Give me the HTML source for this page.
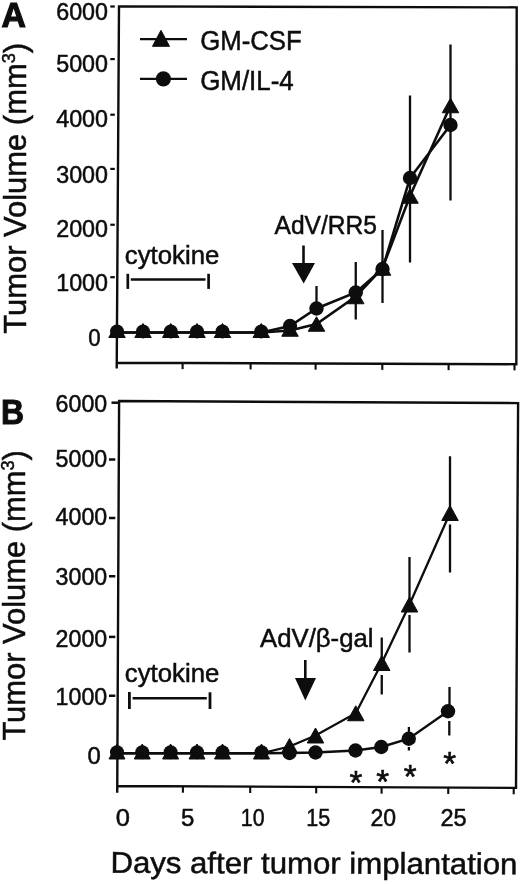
<!DOCTYPE html>
<html><head><meta charset="utf-8"><title>Figure</title>
<style>
html,body{margin:0;padding:0;background:#fff;}
body{width:520px;height:884px;overflow:hidden;font-family:"Liberation Sans",sans-serif;}
svg{display:block;filter:grayscale(1) blur(0.4px);}
svg text{font-family:"Liberation Sans",sans-serif;fill:#0d0d0d;stroke:#0d0d0d;stroke-width:0.5px;}
svg line,svg polyline,svg path{stroke:#0d0d0d;}
svg polygon,svg circle{fill:#0d0d0d;stroke:none;}
svg polygon.t{stroke:#0d0d0d;stroke-width:1px;stroke-linejoin:round;}
</style></head><body>
<svg width="520" height="884" viewBox="0 0 520 884">
<rect x="0" y="0" width="520" height="884" fill="#fff" stroke="none"/>
<g id="A">
<path fill="none" stroke-width="2.4" stroke-linejoin="miter" d="M116.7,368.6 L116.75,362.7 L119.0,6.35 L516.7,7.35 L516.35,365.2 M115.75,362.7 L517.35,364.2"/>
<line x1="182.60" y1="362.95" x2="182.60" y2="369.15" stroke-width="2.1"/>
<line x1="250.60" y1="363.20" x2="250.60" y2="369.40" stroke-width="2.1"/>
<line x1="315.60" y1="363.45" x2="315.60" y2="369.65" stroke-width="2.1"/>
<line x1="382.30" y1="363.70" x2="382.30" y2="369.90" stroke-width="2.1"/>
<line x1="448.60" y1="363.95" x2="448.60" y2="370.15" stroke-width="2.1"/>
<line x1="514.50" y1="364.19" x2="514.50" y2="370.39" stroke-width="2.1"/>
<line x1="110.30" y1="6.50" x2="114.80" y2="6.50" stroke-width="2.2"/>
<text x="56.2" y="19.55" font-size="23" text-anchor="start" font-weight="normal" textLength="51.8" lengthAdjust="spacingAndGlyphs">6000</text>
<line x1="110.30" y1="59.10" x2="114.80" y2="59.10" stroke-width="2.2"/>
<text x="56.2" y="72.3" font-size="23" text-anchor="start" font-weight="normal" textLength="51.8" lengthAdjust="spacingAndGlyphs">5000</text>
<line x1="110.30" y1="114.70" x2="114.80" y2="114.70" stroke-width="2.2"/>
<text x="56.2" y="127.05" font-size="23" text-anchor="start" font-weight="normal" textLength="51.8" lengthAdjust="spacingAndGlyphs">4000</text>
<line x1="110.30" y1="168.90" x2="114.80" y2="168.90" stroke-width="2.2"/>
<text x="56.2" y="182.55" font-size="23" text-anchor="start" font-weight="normal" textLength="51.8" lengthAdjust="spacingAndGlyphs">3000</text>
<line x1="110.30" y1="224.75" x2="114.80" y2="224.75" stroke-width="2.2"/>
<text x="56.2" y="237.3" font-size="23" text-anchor="start" font-weight="normal" textLength="51.8" lengthAdjust="spacingAndGlyphs">2000</text>
<line x1="110.30" y1="277.20" x2="114.80" y2="277.20" stroke-width="2.2"/>
<text x="56.2" y="290.55" font-size="23" text-anchor="start" font-weight="normal" textLength="51.8" lengthAdjust="spacingAndGlyphs">1000</text>
<text x="88.3" y="346.2" font-size="23" text-anchor="start" font-weight="normal" textLength="12.4" lengthAdjust="spacingAndGlyphs">0</text>
<text transform="translate(25.5,333.8) rotate(-90)" font-size="30.5" textLength="291" lengthAdjust="spacingAndGlyphs">Tumor Volume (mm<tspan font-size="18" dy="-11">3</tspan><tspan dy="11">)</tspan></text>
<text x="1.5" y="26.6" font-size="35.4" text-anchor="start" font-weight="bold" textLength="24.4" lengthAdjust="spacingAndGlyphs" style="stroke-width:1.2px">A</text>
<line x1="140.00" y1="39.10" x2="187.00" y2="39.10" stroke-width="2.3"/>
<polygon class="t" points="161.00,30.30 152.50,46.30 169.50,46.30"/>
<line x1="140.00" y1="78.80" x2="187.00" y2="78.80" stroke-width="2.3"/>
<circle cx="163.40" cy="78.80" r="7.6"/>
<text x="200.2" y="50.3" font-size="27" text-anchor="start" font-weight="normal" textLength="101.5" lengthAdjust="spacingAndGlyphs">GM-CSF</text>
<text x="200.2" y="90.1" font-size="27" text-anchor="start" font-weight="normal" textLength="93.5" lengthAdjust="spacingAndGlyphs">GM/IL-4</text>
<text x="124.8" y="264" font-size="25.5" text-anchor="start" font-weight="normal" textLength="94.5" lengthAdjust="spacingAndGlyphs">cytokine</text>
<line x1="127.80" y1="273.80" x2="127.80" y2="288.90" stroke-width="2.7"/>
<line x1="208.60" y1="273.80" x2="208.60" y2="288.90" stroke-width="2.7"/>
<line x1="130.80" y1="279.40" x2="205.50" y2="279.40" stroke-width="2.5"/>
<text x="274.5" y="233.75" font-size="25.5" text-anchor="start" font-weight="normal" textLength="102.5" lengthAdjust="spacingAndGlyphs">AdV/RR5</text>
<line x1="303.50" y1="245.50" x2="303.50" y2="264.00" stroke-width="2.6"/>
<polygon points="292,263 315,263 303.7,283.5"/>
<line x1="316.50" y1="286.00" x2="316.50" y2="310.00" stroke-width="2.3"/>
<line x1="355.75" y1="262.00" x2="355.75" y2="319.50" stroke-width="2.3"/>
<line x1="382.50" y1="230.00" x2="382.50" y2="303.00" stroke-width="2.3"/>
<line x1="410.00" y1="95.50" x2="410.00" y2="262.50" stroke-width="2.3"/>
<line x1="450.50" y1="44.50" x2="450.50" y2="200.50" stroke-width="2.3"/>
<polyline fill="none" stroke-width="2.6" points="117.00,332.50 143.00,332.50 170.75,332.50 197.00,332.50 222.50,332.50 261.25,332.50 290.00,330.50 316.50,324.00 355.75,296.50 382.50,268.00 410.00,196.00 450.50,105.50"/>
<polyline fill="none" stroke-width="2.6" points="117.00,332.50 143.00,332.50 170.75,332.50 197.00,332.50 222.50,332.50 261.25,332.50 290.00,326.00 316.50,308.50 355.75,292.50 382.50,269.00 410.00,178.00 450.50,125.00"/>
<polygon class="t" points="117.00,323.50 108.75,337.50 125.25,337.50"/>
<polygon class="t" points="143.00,323.50 134.75,337.50 151.25,337.50"/>
<polygon class="t" points="170.75,323.50 162.50,337.50 179.00,337.50"/>
<polygon class="t" points="197.00,323.50 188.75,337.50 205.25,337.50"/>
<polygon class="t" points="222.50,323.50 214.25,337.50 230.75,337.50"/>
<polygon class="t" points="261.25,323.50 253.00,337.50 269.50,337.50"/>
<polygon class="t" points="290.00,321.75 281.75,336.25 298.25,336.25"/>
<polygon class="t" points="316.50,316.75 308.25,331.25 324.75,331.25"/>
<polygon class="t" points="355.75,289.25 347.50,303.75 364.00,303.75"/>
<polygon class="t" points="382.50,260.75 374.25,275.25 390.75,275.25"/>
<polygon class="t" points="410.00,188.75 401.75,203.25 418.25,203.25"/>
<polygon class="t" points="450.50,98.25 442.25,112.75 458.75,112.75"/>
<circle cx="117.00" cy="331.40" r="7.0"/>
<circle cx="143.00" cy="331.40" r="7.0"/>
<circle cx="170.75" cy="331.40" r="7.0"/>
<circle cx="197.00" cy="331.40" r="7.0"/>
<circle cx="222.50" cy="331.40" r="7.0"/>
<circle cx="261.25" cy="331.40" r="7.0"/>
<circle cx="290.00" cy="326.00" r="7.2"/>
<circle cx="316.50" cy="308.50" r="7.2"/>
<circle cx="355.75" cy="292.50" r="7.2"/>
<circle cx="382.50" cy="269.00" r="7.2"/>
<circle cx="410.00" cy="178.00" r="7.2"/>
<circle cx="450.50" cy="125.00" r="7.2"/>
</g>
<g id="B">
<path fill="none" stroke-width="2.4" stroke-linejoin="miter" d="M117.2,792.8 L117.25,786.0 L119.1,401.0 L518.1,403.1 L516.0,788.9 M116.25,786.0 L517.0,787.9"/>
<line x1="182.90" y1="786.31" x2="182.90" y2="792.71" stroke-width="2.1"/>
<line x1="250.20" y1="786.63" x2="250.20" y2="793.03" stroke-width="2.1"/>
<line x1="316.20" y1="786.95" x2="316.20" y2="793.35" stroke-width="2.1"/>
<line x1="381.60" y1="787.26" x2="381.60" y2="793.66" stroke-width="2.1"/>
<line x1="448.25" y1="787.58" x2="448.25" y2="793.98" stroke-width="2.1"/>
<line x1="513.70" y1="787.89" x2="513.70" y2="794.29" stroke-width="2.1"/>
<line x1="111.50" y1="402.70" x2="118.50" y2="402.70" stroke-width="2.5"/>
<text x="55.6" y="412.15" font-size="23.6" text-anchor="start" font-weight="normal" textLength="51.6" lengthAdjust="spacingAndGlyphs">6000</text>
<line x1="109.00" y1="459.50" x2="115.30" y2="459.50" stroke-width="2.5"/>
<text x="55.6" y="467.15" font-size="23.6" text-anchor="start" font-weight="normal" textLength="51.6" lengthAdjust="spacingAndGlyphs">5000</text>
<line x1="109.00" y1="518.00" x2="115.30" y2="518.00" stroke-width="2.5"/>
<text x="55.6" y="525.4" font-size="23.6" text-anchor="start" font-weight="normal" textLength="51.6" lengthAdjust="spacingAndGlyphs">4000</text>
<line x1="109.00" y1="576.25" x2="115.30" y2="576.25" stroke-width="2.5"/>
<text x="55.6" y="585.4" font-size="23.6" text-anchor="start" font-weight="normal" textLength="51.6" lengthAdjust="spacingAndGlyphs">3000</text>
<line x1="109.00" y1="636.90" x2="115.30" y2="636.90" stroke-width="2.5"/>
<text x="55.6" y="646.65" font-size="23.6" text-anchor="start" font-weight="normal" textLength="51.6" lengthAdjust="spacingAndGlyphs">2000</text>
<line x1="109.00" y1="695.75" x2="115.30" y2="695.75" stroke-width="2.5"/>
<text x="55.6" y="704.9" font-size="23.6" text-anchor="start" font-weight="normal" textLength="51.6" lengthAdjust="spacingAndGlyphs">1000</text>
<text x="87.6" y="763.8" font-size="24" text-anchor="start" font-weight="normal" textLength="13.3" lengthAdjust="spacingAndGlyphs">0</text>
<text transform="translate(25.4,740.6) rotate(-90)" font-size="30.5" textLength="290.5" lengthAdjust="spacingAndGlyphs">Tumor Volume (mm<tspan font-size="18" dy="-11">3</tspan><tspan dy="11">)</tspan></text>
<text x="0.9" y="423.8" font-size="34.6" text-anchor="start" font-weight="bold" textLength="23.0" lengthAdjust="spacingAndGlyphs" style="stroke-width:1.0px">B</text>
<text x="124.8" y="681.75" font-size="25.5" text-anchor="start" font-weight="normal" textLength="94.5" lengthAdjust="spacingAndGlyphs">cytokine</text>
<line x1="129.40" y1="692.00" x2="129.40" y2="709.00" stroke-width="2.8"/>
<line x1="210.00" y1="692.30" x2="210.00" y2="709.00" stroke-width="2.8"/>
<line x1="132.60" y1="698.20" x2="206.80" y2="698.20" stroke-width="2.6"/>
<text x="260" y="647" font-size="25.5" text-anchor="start" font-weight="normal" textLength="113.5" lengthAdjust="spacingAndGlyphs">AdV/β-gal</text>
<line x1="305.30" y1="660.00" x2="305.30" y2="679.00" stroke-width="2.6"/>
<polygon points="295,678 316,678 305.3,700.5"/>
<line x1="381.75" y1="637.50" x2="381.75" y2="660.00" stroke-width="2.3"/>
<line x1="381.75" y1="675.00" x2="381.75" y2="694.50" stroke-width="2.3"/>
<line x1="409.50" y1="557.00" x2="409.50" y2="600.00" stroke-width="2.3"/>
<line x1="409.50" y1="615.00" x2="409.50" y2="652.50" stroke-width="2.3"/>
<line x1="450.00" y1="456.25" x2="450.00" y2="508.00" stroke-width="2.3"/>
<line x1="450.00" y1="524.50" x2="450.00" y2="572.50" stroke-width="2.3"/>
<line x1="408.90" y1="727.00" x2="408.90" y2="735.00" stroke-width="2.3"/>
<line x1="408.90" y1="747.00" x2="408.90" y2="750.50" stroke-width="2.3"/>
<line x1="449.50" y1="687.00" x2="449.50" y2="708.00" stroke-width="2.3"/>
<line x1="449.30" y1="721.00" x2="449.30" y2="735.50" stroke-width="2.3"/>
<polyline fill="none" stroke-width="2.3" points="117.00,753.30 142.25,753.30 170.60,753.30 197.00,753.30 222.50,753.30 261.50,753.30 289.50,746.50 315.50,735.50 355.75,713.25 381.75,663.00 409.50,604.50 450.00,513.00"/>
<polyline fill="none" stroke-width="2.4" points="117.00,753.30 142.25,753.30 170.60,753.30 197.00,753.30 222.50,753.30 261.50,753.30 289.50,753.00 315.50,752.50 355.50,750.50 381.25,747.00 408.75,738.75 448.00,711.25"/>
<polygon class="t" points="117.00,744.00 109.00,759.00 125.00,759.00"/>
<polygon class="t" points="142.25,744.00 134.25,759.00 150.25,759.00"/>
<polygon class="t" points="170.60,744.00 162.60,759.00 178.60,759.00"/>
<polygon class="t" points="197.00,744.00 189.00,759.00 205.00,759.00"/>
<polygon class="t" points="222.50,744.00 214.50,759.00 230.50,759.00"/>
<polygon class="t" points="261.50,744.00 253.50,759.00 269.50,759.00"/>
<polygon class="t" points="289.50,738.50 281.25,753.50 297.75,753.50"/>
<polygon class="t" points="315.50,728.00 307.25,743.00 323.75,743.00"/>
<polygon class="t" points="355.75,705.75 347.50,720.75 364.00,720.75"/>
<polygon class="t" points="381.75,655.50 373.50,670.50 390.00,670.50"/>
<polygon class="t" points="409.50,597.00 401.25,612.00 417.75,612.00"/>
<polygon class="t" points="450.00,505.50 441.75,520.50 458.25,520.50"/>
<circle cx="117.00" cy="752.30" r="7.0"/>
<circle cx="142.25" cy="752.30" r="7.0"/>
<circle cx="170.60" cy="752.30" r="7.0"/>
<circle cx="197.00" cy="752.30" r="7.0"/>
<circle cx="222.50" cy="752.30" r="7.0"/>
<circle cx="261.50" cy="752.30" r="7.0"/>
<circle cx="289.50" cy="753.00" r="7.2"/>
<circle cx="315.50" cy="752.50" r="7.2"/>
<circle cx="355.50" cy="750.50" r="7.2"/>
<circle cx="381.25" cy="747.00" r="7.2"/>
<circle cx="408.75" cy="738.75" r="7.2"/>
<circle cx="448.00" cy="711.25" r="7.2"/>
<text x="349.40" y="793.78" font-size="33" style="stroke-width:0.6px">*</text>
<text x="376.35" y="792.88" font-size="33" style="stroke-width:0.6px">*</text>
<text x="403.80" y="787.58" font-size="33" style="stroke-width:0.6px">*</text>
<text x="443.30" y="775.48" font-size="33" style="stroke-width:0.6px">*</text>
<text x="115.8" y="826" font-size="24" text-anchor="start" font-weight="normal" textLength="14.2" lengthAdjust="spacingAndGlyphs">0</text>
<text x="181" y="826" font-size="24" text-anchor="start" font-weight="normal">5</text>
<text x="240.8" y="826" font-size="24" text-anchor="start" font-weight="normal" textLength="23.8" lengthAdjust="spacingAndGlyphs">10</text>
<text x="306.2" y="826" font-size="24" text-anchor="start" font-weight="normal" textLength="24" lengthAdjust="spacingAndGlyphs">15</text>
<text x="370.4" y="826" font-size="24" text-anchor="start" font-weight="normal" textLength="25.6" lengthAdjust="spacingAndGlyphs">20</text>
<text x="440.4" y="826" font-size="24" text-anchor="start" font-weight="normal" textLength="26.2" lengthAdjust="spacingAndGlyphs">25</text>
<g transform="rotate(0.2 314 873)"><text x="110.4" y="873.5" font-size="30" text-anchor="start" font-weight="normal" textLength="407" lengthAdjust="spacingAndGlyphs">Days after tumor implantation</text></g>
</g>
</svg>
</body></html>
